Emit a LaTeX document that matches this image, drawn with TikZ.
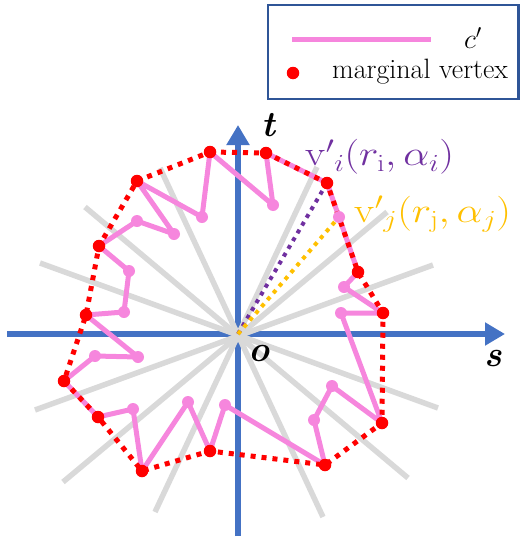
\RequirePackage{fix-cm}
\documentclass[tikz,border=0pt]{standalone}
\usepackage{amsmath}
\usetikzlibrary{arrows.meta}
\definecolor{axisblue}{RGB}{68,114,196}
\definecolor{raygray}{RGB}{217,217,217}
\definecolor{cpink}{RGB}{246,134,221}
\definecolor{vred}{RGB}{255,0,0}
\definecolor{vpurple}{RGB}{112,48,160}
\definecolor{vorange}{RGB}{255,192,0}
\definecolor{legborder}{RGB}{47,85,151}
\tikzset{
  axisline/.style={draw=axisblue,line width=6.5pt,-{Triangle[length=20pt,width=22pt]}},
  rayline/.style={draw=raygray,line width=5.5pt},
  pinkline/.style={draw=cpink,line width=5pt,line join=round},
  redpoly/.style={draw=vred,line width=5pt,dash pattern=on 5pt off 6pt},
  purpdot/.style={draw=vpurple,line width=4pt,dash pattern=on 4pt off 5pt},
  orangedot/.style={draw=vorange,line width=4pt,dash pattern=on 4pt off 5pt},
  pdot/.style={circle,fill=cpink,inner sep=0pt,minimum size=12pt},
  rdot/.style={circle,fill=vred,inner sep=0pt,minimum size=12.5pt},
  axlabel/.style={font=\fontsize{36}{40}\selectfont\bfseries\itshape},
  vlabel/.style={anchor=west,inner sep=0pt,xscale=1.18,font=\fontsize{35}{40}\selectfont},
}
\begin{document}
\begin{tikzpicture}[x=1pt,y=-1pt]
\useasboundingbox (0,0) rectangle (520,538);
% origin and axes
\coordinate (O) at (238,334);
\coordinate (xs) at (7,334);
\coordinate (xe) at (505,334);
\coordinate (ys) at (238,536);
\coordinate (ye) at (238,125);
\draw[axisline] (xs) -- (xe);
\draw[axisline] (ys) -- (ye);
% gray rays
\coordinate (gA1) at (85,207);  \coordinate (gA2) at (408,478);
\coordinate (gB1) at (40,263);  \coordinate (gB2) at (438,408);
\coordinate (gC1) at (160,168); \coordinate (gC2) at (323,517);
\coordinate (gD1) at (317,167); \coordinate (gD2) at (155,512);
\coordinate (gE1) at (387,212); \coordinate (gE2) at (63,482);
\coordinate (gF1) at (433,265); \coordinate (gF2) at (35,410);
\foreach \g in {A,B,C,D,E,F} \draw[rayline] (g\g1) -- (g\g2);
% contour points
\foreach \i/\x/\y in {1/210/152,2/273/205,3/266/153,4/327/183,5/339/217,6/358/272,
  7/344/287,8/383/313,9/341/313,10/382/423,11/332/386,12/314/420,13/325/465,
  14/225/405,15/210/451,16/188/402,17/142/471,18/133/409,19/98/417,20/64/381,
  21/95/356,22/138/357,23/86/315,24/124/312,25/129/271,26/99/246,27/137/221,
  28/174/234,29/137/181,30/202/217}
  \coordinate (n\i) at (\x,\y);
% dotted radii
\draw[purpdot] (O) -- (n4);
\draw[orangedot] (O) -- (n5);
% pink contour
\draw[pinkline] (n1) \foreach \i in {2,...,30} {-- (n\i)} -- cycle;
% red polygon
\draw[redpoly] (n1) -- (n3) -- (n4) -- (n6) -- (n8) -- (n10) -- (n13) -- (n15)
  -- (n17) -- (n19) -- (n20) -- (n23) -- (n26) -- (n29) -- cycle;
% dots
\foreach \i in {2,5,7,9,11,12,14,16,18,21,22,24,25,27,28,30}
  \node[pdot] (p\i) at (n\i) {};
\foreach \i in {1,3,4,6,8,10,13,15,17,19,20,23,26,29}
  \node[rdot] (r\i) at (n\i) {};
% axis labels
\node[axlabel] (tl) at (268,125) {t};
\node[axlabel] (ol) at (259,354) {o};
\node[axlabel] (sl) at (493,359) {s};
% vertex labels
\node[vlabel,text=vpurple] (vi) at (305,157)
  {$\mathrm{v}'{}_{i}(r_{\mathrm{i}},\alpha_{i})$};
\node[vlabel,text=vorange] (vj) at (354,214)
  {$\mathrm{v}'{}_{j}(r_{\mathrm{j}},\alpha_{j})$};
% legend
\draw[draw=legborder,line width=2.5pt,fill=white] (268,5) rectangle (518.5,99);
\coordinate (la) at (292,39);
\coordinate (lb) at (431,39);
\draw[pinkline] (la) -- (lb);
\node[font=\fontsize{28}{32}\selectfont] (cl) at (473,38) {$c'$};
\node[rdot] (ld) at (293,73) {};
\node[anchor=base west,inner sep=0pt,font=\fontsize{28}{32}\selectfont] (lt) at (332,78) {marginal vertex};
\end{tikzpicture}
\end{document}
